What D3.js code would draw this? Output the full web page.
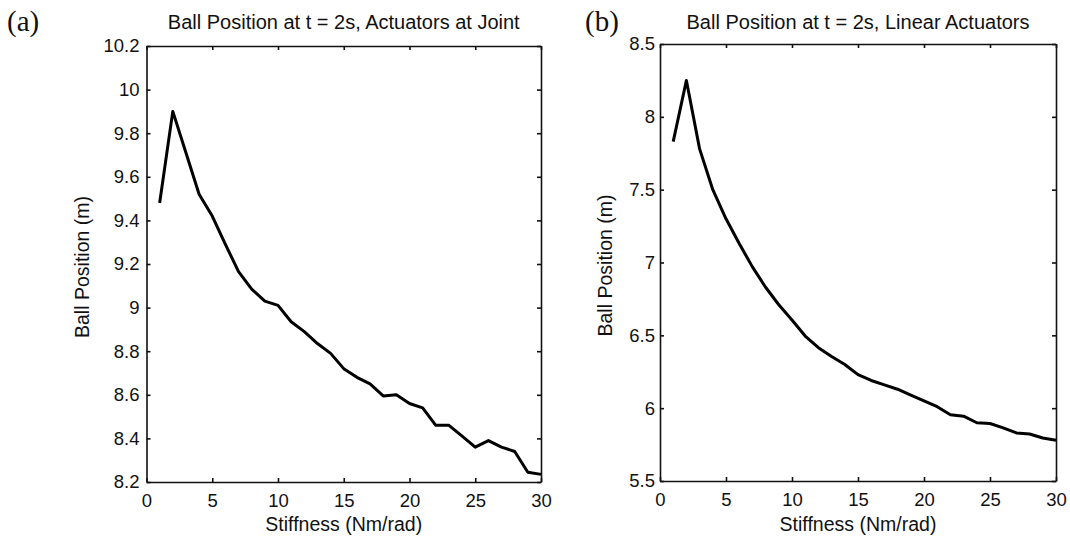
<!DOCTYPE html>
<html>
<head>
<meta charset="utf-8">
<script src="https://cdn.jsdelivr.net/npm/d3@7"></script>
<style>
  html, body { margin: 0; padding: 0; background: #fff; }
  svg { display: block; }
  .tick text { font-family: "Liberation Sans", Arial, sans-serif; fill: #111; }
</style>
</head>
<body>
<svg id="chart" width="1070" height="539"></svg>
<script>
// ---- data ----
const stiffness = [1,2,3,4,5,6,7,8,9,10,11,12,13,14,15,16,17,18,19,20,21,22,23,24,25,26,27,28,29,30];
const posJoint = [9.48,9.90,9.71,9.52,9.42,9.29,9.165,9.085,9.03,9.01,8.935,8.89,8.835,8.79,8.72,8.68,8.65,8.595,8.60,8.56,8.54,8.46,8.46,8.41,8.36,8.39,8.36,8.34,8.245,8.235];
const posLinear = [7.83,8.25,7.78,7.50,7.30,7.13,6.97,6.83,6.71,6.605,6.495,6.415,6.355,6.30,6.23,6.19,6.16,6.13,6.09,6.05,6.01,5.955,5.945,5.90,5.895,5.865,5.83,5.823,5.795,5.78];
const xTicks = [0,5,10,15,20,25,30];
const yTicksJoint = [8.2,8.4,8.6,8.8,9,9.2,9.4,9.6,9.8,10,10.2];
const yTicksLinear = [5.5,6,6.5,7,7.5,8,8.5];
const titles = ["Ball Position at t = 2s, Actuators at Joint", "Ball Position at t = 2s, Linear Actuators"];
const panelTags = ["(a)", "(b)"];
const xLabel = "Stiffness (Nm/rad)";
const yLabel = "Ball Position (m)";

const svg = d3.select("#chart");
const sans = '"Liberation Sans", Arial, sans-serif';
const serif = '"Liberation Serif", "Times New Roman", serif';

const panels = [
  { left: 146.5, right: 541, top: 46, bottom: 482, ys: posJoint, yTicks: yTicksJoint, yDom: [8.2, 10.2], yPad: 7, tag: panelTags[0], title: titles[0], tagX: 7, ylabX: 89 },
  { left: 660, right: 1056, top: 44, bottom: 481, ys: posLinear, yTicks: yTicksLinear, yDom: [5.5, 8.5], yPad: 5, tag: panelTags[1], title: titles[1], tagX: 585, ylabX: 612 }
];

panels.forEach(p => {
  const x = d3.scaleLinear().domain([0, 30]).range([p.left, p.right]);
  const y = d3.scaleLinear().domain(p.yDom).range([p.bottom, p.top]);
  const fmt = d => String(+d.toFixed(1));
  const g = svg.append("g");

  // bottom axis
  g.append("g").attr("transform", `translate(0,${p.bottom})`)
    .call(d3.axisBottom(x).tickValues(xTicks).tickFormat(fmt).tickSizeInner(-4).tickSizeOuter(0).tickPadding(12))
    .call(a => a.selectAll("text").attr("font-size", 18.5).attr("font-family", sans));
  // top axis
  g.append("g").attr("transform", `translate(0,${p.top})`)
    .call(d3.axisTop(x).tickValues(xTicks).tickFormat("").tickSizeInner(-4).tickSizeOuter(0));
  // left axis
  g.append("g").attr("transform", `translate(${p.left},0)`)
    .call(d3.axisLeft(y).tickValues(p.yTicks).tickFormat(fmt).tickSizeInner(-4).tickSizeOuter(0).tickPadding(p.yPad))
    .call(a => a.selectAll("text").attr("font-size", 18.5).attr("font-family", sans));
  // right axis
  g.append("g").attr("transform", `translate(${p.right},0)`)
    .call(d3.axisRight(y).tickValues(p.yTicks).tickFormat("").tickSizeInner(-4).tickSizeOuter(0));

  g.selectAll(".domain").attr("stroke", "#111").attr("stroke-width", 1.6);
  g.selectAll(".tick line").attr("stroke", "#111").attr("stroke-width", 1.6);

  // data line
  const line = d3.line().x((d, i) => x(stiffness[i])).y(d => y(d));
  g.append("path").datum(p.ys)
    .attr("d", line).attr("fill", "none").attr("stroke", "#000")
    .attr("stroke-width", 3).attr("stroke-linejoin", "round");

  // title
  g.append("text").attr("x", (p.left + p.right) / 2).attr("y", 29)
    .attr("text-anchor", "middle").attr("font-family", sans).attr("font-size", 20).attr("fill", "#111")
    .text(p.title);
  // panel tag
  g.append("text").attr("x", p.tagX).attr("y", 31)
    .attr("font-family", serif).attr("font-size", 29).attr("fill", "#111")
    .text(p.tag);
  // x label
  g.append("text").attr("x", (p.left + p.right) / 2).attr("y", 531)
    .attr("text-anchor", "middle").attr("font-family", sans).attr("font-size", 19.5).attr("fill", "#111")
    .text(xLabel);
  // y label
  g.append("text").attr("transform", `translate(${p.ylabX},${(p.top + p.bottom) / 2 + 3}) rotate(-90)`)
    .attr("text-anchor", "middle").attr("font-family", sans).attr("font-size", 19.5).attr("fill", "#111")
    .text(yLabel);
});
</script>
</body>
</html>
